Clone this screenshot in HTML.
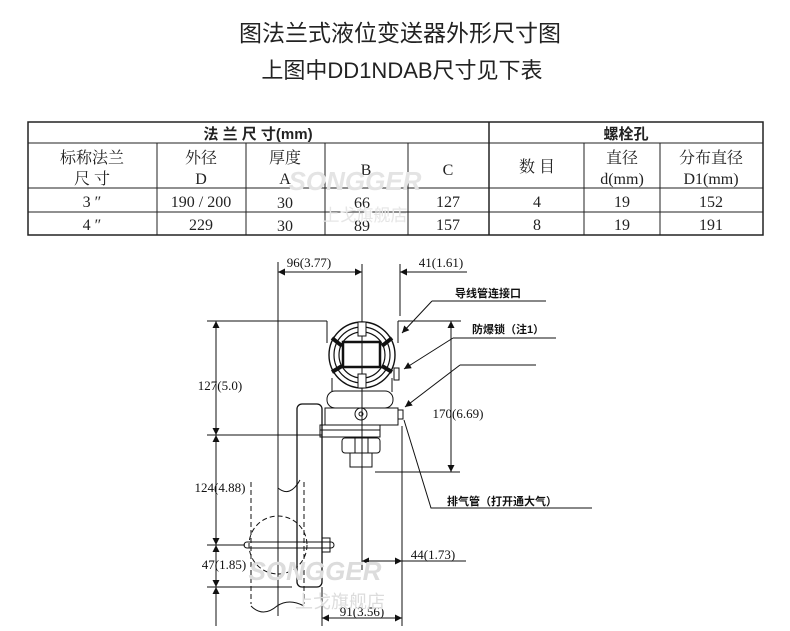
<!DOCTYPE html>
<html><head><meta charset="utf-8"><style>
body{margin:0;background:#fff;width:790px;height:631px;overflow:hidden}
svg{display:block}
.cj{font-family:"Liberation Sans","Noto Sans CJK SC",sans-serif}
.sf{font-family:"Liberation Serif","Noto Serif CJK SC",serif}
</style></head><body>
<svg width="790" height="631" viewBox="0 0 790 631" xmlns="http://www.w3.org/2000/svg">
<defs>
<marker id="a" viewBox="0 0 10 10" refX="10" refY="5" markerWidth="9" markerHeight="7" orient="auto-start-reverse" markerUnits="userSpaceOnUse"><path d="M0,0 L10,5 L0,10 z" fill="#111"/></marker>
</defs>
<g class="cj" fill="#222" text-anchor="middle">
<text x="400" y="41" font-size="23">图法兰式液位变送器外形尺寸图</text>
<text x="402" y="78" font-size="22">上图中DD1NDAB尺寸见下表</text>
</g>
<!-- table -->
<g stroke="#222" fill="none">
<rect x="28" y="122" width="735" height="113" stroke-width="1.5"/>
<line x1="28" y1="143" x2="763" y2="143"/>
<line x1="28" y1="188" x2="763" y2="188"/>
<line x1="28" y1="212" x2="763" y2="212"/>
<line x1="489" y1="122" x2="489" y2="235" stroke-width="1.5"/>
<line x1="157" y1="143" x2="157" y2="235"/>
<line x1="246" y1="143" x2="246" y2="235"/>
<line x1="325" y1="143" x2="325" y2="235"/>
<line x1="408" y1="143" x2="408" y2="235"/>
<line x1="584" y1="143" x2="584" y2="235"/>
<line x1="660" y1="143" x2="660" y2="235"/>
</g>
<g fill="#222" text-anchor="middle" font-size="16">
<text class="cj" x="258" y="139" font-weight="bold" font-size="15">法 兰 尺 寸(mm)</text>
<text class="cj" x="626" y="139" font-weight="bold" font-size="15">螺栓孔</text>
<text class="sf" x="92" y="163">标称法兰</text><text class="sf" x="92" y="184">尺  寸</text>
<text class="sf" x="201" y="163">外径</text><text class="sf" x="201" y="184">D</text>
<text class="sf" x="285" y="163">厚度</text><text class="sf" x="285" y="184">A</text>
<text class="sf" x="366" y="175">B</text>
<text class="sf" x="448" y="175">C</text>
<text class="sf" x="537" y="172">数  目</text>
<text class="sf" x="622" y="163">直径</text><text class="sf" x="622" y="184">d(mm)</text>
<text class="sf" x="711" y="163">分布直径</text><text class="sf" x="711" y="184">D1(mm)</text>
<g class="sf">
<text x="92" y="207">3 ″</text><text x="201" y="207">190 / 200</text><text x="285" y="208">30</text><text x="362" y="208">66</text><text x="448" y="207">127</text><text x="537" y="207">4</text><text x="622" y="207">19</text><text x="711" y="207">152</text>
<text x="92" y="230">4 ″</text><text x="201" y="230">229</text><text x="285" y="231">30</text><text x="362" y="231">89</text><text x="448" y="230">157</text><text x="537" y="230">8</text><text x="622" y="230">19</text><text x="711" y="230">191</text>
</g>
</g>
<text x="355" y="190" font-family="Liberation Sans" font-weight="bold" font-style="italic" font-size="26" fill="#e4e4e4" text-anchor="middle">SONGGER</text>
<text class="cj" x="365" y="221" font-size="17" fill="#e6e6e6" text-anchor="middle">上戈旗舰店</text>
<!-- diagram -->
<g stroke="#111" fill="none" stroke-width="1">
<line x1="278" y1="262" x2="278" y2="616"/>
<line x1="362" y1="264" x2="362" y2="570"/>
<line x1="400" y1="264" x2="400" y2="316"/>
<line x1="402" y1="426" x2="402" y2="626"/>
<line x1="322" y1="587" x2="322" y2="626"/>
<line x1="278" y1="272" x2="362" y2="272" marker-start="url(#a)" marker-end="url(#a)"/>
<line x1="467" y1="272" x2="400" y2="272" marker-end="url(#a)"/>
<line x1="207" y1="321" x2="327" y2="321"/>
<line x1="398" y1="321" x2="461" y2="321"/>
<line x1="207" y1="435" x2="322" y2="435"/>
<line x1="207" y1="545" x2="245" y2="545"/>
<line x1="207" y1="587" x2="292" y2="587"/>
<line x1="216" y1="321" x2="216" y2="435" marker-start="url(#a)" marker-end="url(#a)"/>
<line x1="216" y1="435" x2="216" y2="545" marker-start="url(#a)" marker-end="url(#a)"/>
<line x1="216" y1="545" x2="216" y2="587" marker-start="url(#a)" marker-end="url(#a)"/>
<line x1="216" y1="587" x2="216" y2="626" marker-start="url(#a)"/>
<line x1="451" y1="321" x2="451" y2="472" marker-start="url(#a)" marker-end="url(#a)"/>
<line x1="375" y1="472" x2="460" y2="472"/>
<line x1="362" y1="561" x2="402" y2="561" marker-start="url(#a)" marker-end="url(#a)"/>
<line x1="402" y1="561" x2="466" y2="561"/>
<line x1="322" y1="618" x2="402" y2="618" marker-start="url(#a)" marker-end="url(#a)"/>
<path d="M327,321 L327,343 M398,321 L398,343"/>
<rect x="297" y="404" width="25" height="183" rx="5" stroke-width="1.3"/>
<g stroke-dasharray="5,3">
<circle cx="278" cy="545" r="29"/>
<line x1="251" y1="482" x2="251" y2="604"/>
<line x1="304" y1="482" x2="304" y2="604"/>
</g>
<path d="M278,488 q12,10 22,-8 M251,606 q12,12 26,0 q12,-8 27,0"/>
<rect x="244" y="542" width="90" height="6" rx="3"/>
<rect x="322" y="538" width="8" height="14"/>
<circle cx="362" cy="355" r="33" stroke-width="1.4"/>
<circle cx="362" cy="355" r="28" stroke-width="1.2"/>
<circle cx="362" cy="355" r="23" stroke-width="1.2"/>
<rect x="343" y="342" width="37" height="25" stroke-width="2.5"/>
<rect x="358" y="322" width="8" height="14" fill="#fff"/>
<rect x="358" y="374" width="8" height="14" fill="#fff"/>
<path d="M332,338 l10,8 M392,338 l-10,8 M332,372 l10,-6 M392,372 l-10,-6" stroke-width="4"/>
<path d="M332,378 L332,392 M392,378 L392,392"/>
<rect x="394" y="368" width="5" height="12"/>
<rect x="327" y="391" width="66" height="17" rx="8"/>
<rect x="325" y="408" width="73" height="17"/>
<rect x="398" y="410" width="5" height="9"/>
<circle cx="361" cy="414" r="6"/><circle cx="361" cy="414" r="2"/>
<rect x="320" y="425" width="60" height="12"/>
<line x1="320" y1="430" x2="380" y2="430"/>
<rect x="342" y="438" width="38" height="15" rx="3"/>
<line x1="355" y1="438" x2="355" y2="453"/><line x1="368" y1="438" x2="368" y2="453"/>
<rect x="350" y="453" width="22" height="14"/>
<polyline points="546,301 432,301"/>
<line x1="432" y1="301" x2="402" y2="333" marker-end="url(#a)"/>
<polyline points="556,338 453,338"/>
<line x1="453" y1="338" x2="404" y2="369" marker-end="url(#a)"/>
<polyline points="536,365 460,365"/>
<line x1="460" y1="365" x2="405" y2="407" marker-end="url(#a)"/>
<polyline points="592,508 431,508 404,420"/>
</g>
<g class="sf" fill="#111" font-size="13" text-anchor="middle">
<text x="309" y="267">96(3.77)</text>
<text x="441" y="267">41(1.61)</text>
<text x="220" y="390">127(5.0)</text>
<text x="458" y="418">170(6.69)</text>
<text x="220" y="492">124(4.88)</text>
<text x="224" y="569">47(1.85)</text>
<text x="433" y="559">44(1.73)</text>
<text x="362" y="616">91(3.56)</text>
</g>
<g class="cj" fill="#111" font-size="11" font-weight="bold">
<text x="455" y="297">导线管连接口</text>
<text x="472" y="333">防爆锁（注1）</text>
<text x="447" y="505">排气管（打开通大气）</text>
</g>
<text x="315" y="580" font-family="Liberation Sans" font-weight="bold" font-style="italic" font-size="26" fill="#dcdcdc" text-anchor="middle">SONGGER</text>
<text class="cj" x="340" y="608" font-size="18" fill="#dcdcdc" text-anchor="middle">上戈旗舰店</text>
</svg>
</body></html>
